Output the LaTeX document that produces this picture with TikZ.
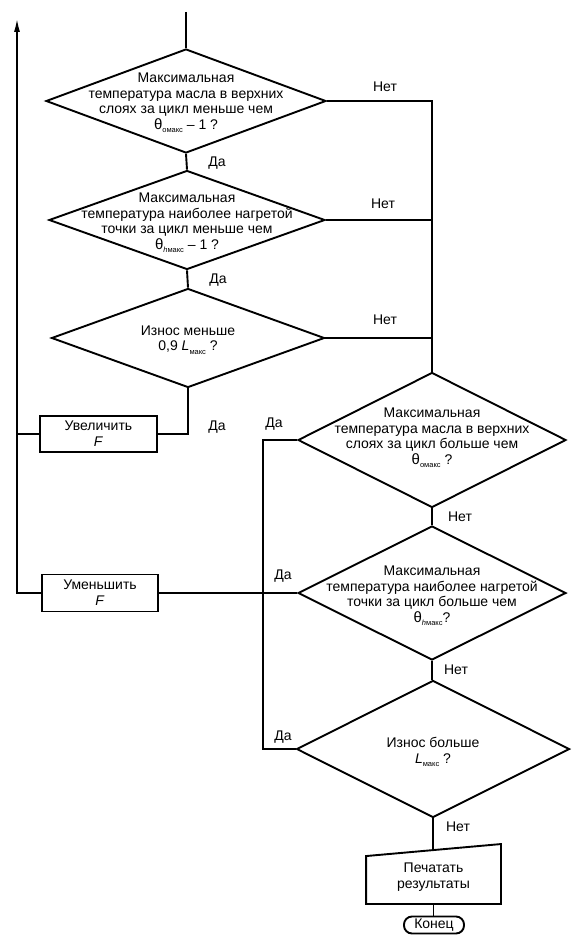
\documentclass[tikz,border=0pt]{standalone}
\usepackage{fontspec}
\setmainfont{Liberation Sans}
\usetikzlibrary{shapes.geometric,arrows.meta}
\newcommand\sbs[1]{\raisebox{-3.5pt}{\fontsize{7.5}{8}\selectfont #1}}
\begin{document}
\begin{tikzpicture}[x=1pt,y=-1pt,
  line width=1.9pt,
  dia/.style={diamond,draw,inner sep=0pt},
  txt/.style={align=center,font=\fontsize{14}{15.5}\selectfont,inner sep=0pt},
  lbl/.style={font=\fontsize{14}{15.5}\selectfont,inner sep=0pt},
  procbox/.style={rectangle,draw,align=center,font=\fontsize{14}{16}\selectfont,inner sep=0pt},
  ]
\useasboundingbox (0,0) rectangle (582,942);

% decisions
\node[dia,minimum width=280pt,minimum height=104pt] (d1) at (186,101) {};
\node[txt] (d1t) at (186,103) {Максимальная\\температура масла в верхних\\слоях за цикл меньше чем\\{\fontsize{15}{15.5}\selectfont θ}\sbs{омакс} – 1 ?};

\node[dia,minimum width=276pt,minimum height=99pt] (d2) at (187,220) {};
\node[txt] (d2t) at (187,223) {Максимальная\\температура наиболее нагретой\\точки за цикл меньше чем\\{\fontsize{15}{15.5}\selectfont θ}\sbs{\textit{h}макс} – 1 ?};

\node[dia,minimum width=273pt,minimum height=99pt] (d3) at (188,338) {};
\node[txt] (d3t) at (188,340) {Износ меньше\\0,9 \textit{L}\sbs{макс} ?};

\node[dia,minimum width=268pt,minimum height=135pt] (d4) at (432,440) {};
\node[txt] (d4t) at (432,438) {Максимальная\\температура масла в верхних\\слоях за цикл больше чем\\{\fontsize{15}{15.5}\selectfont θ}\sbs{омакс} ?};

\node[dia,minimum width=268pt,minimum height=134pt] (d5) at (432,593) {};
\node[txt] (d5t) at (432,596) {Максимальная\\температура наиболее нагретой\\точки за цикл больше чем\\{\fontsize{15}{15.5}\selectfont θ}\sbs{\textit{h}макс}?};

\node[dia,minimum width=273pt,minimum height=137pt] (d6) at (433,749) {};
\node[txt] (d6t) at (433,752) {Износ больше\\\textit{L}\sbs{макс} ?};

% process boxes
\node[procbox,minimum width=117pt,minimum height=36pt] (inc) at (98.5,434) {Увеличить\\\textit{F}};
\node[procbox,minimum width=116pt,minimum height=37pt] (dec) at (100,593) {Уменьшить\\\textit{F}};

% print (manual input) and terminal
\node[txt,minimum width=133pt,minimum height=52pt] (prn) at (433.5,877) {Печатать\\результаты};
\draw (prn.south west) -- (prn.south east) -- ([yshift=6pt]prn.north east) -- ([yshift=-6pt]prn.north west) -- cycle;
\node[procbox,rounded corners=8pt,minimum width=60pt,minimum height=17pt] (end) at (434,925) {Конец};

% connectors
\coordinate (start) at (186,12);
\coordinate (lb) at (17,18);
\coordinate (yb) at (263,440);
\draw (start) -- (d1.north);
\draw (d1.south) -- (d2.north);
\draw (d2.south) -- (d3.north);
\draw (d1.east) -| (d4.north);
\draw (d2.east) -- (d2.east -| d4.north);
\draw (d3.east) -- (d3.east -| d4.north);
\draw (d3.south) |- (inc.east);
\draw (inc.west) -- (inc.west -| lb);
\draw[-{Latex[length=14pt,width=6pt]}] (dec.west) -| (lb);
\draw (d4.west) -| (yb |- d6.west) -- (d6.west);
\draw (dec.east) -- (d5.west);
\draw (d4.south) -- (d5.north);
\draw (d5.south) -- (d5.south |- d6.north);
\draw (d6.south) -- (d6.south |- prn.north);
\draw (prn.south) -- (prn.south |- end.north);

% labels
\node[lbl] (n1) at (385,87) {Нет};
\node[lbl] (n2) at (383,204) {Нет};
\node[lbl] (n3) at (385,320) {Нет};
\node[lbl] (y1) at (217,163) {Да};
\node[lbl] (y2) at (218,280) {Да};
\node[lbl] (y3) at (217,427) {Да};
\node[lbl] (y4) at (274,424) {Да};
\node[lbl] (y5) at (283,576) {Да};
\node[lbl] (y6) at (283,737) {Да};
\node[lbl] (n4) at (460,517) {Нет};
\node[lbl] (n5) at (456,670) {Нет};
\node[lbl] (n6) at (458,827) {Нет};
\end{tikzpicture}
\end{document}
